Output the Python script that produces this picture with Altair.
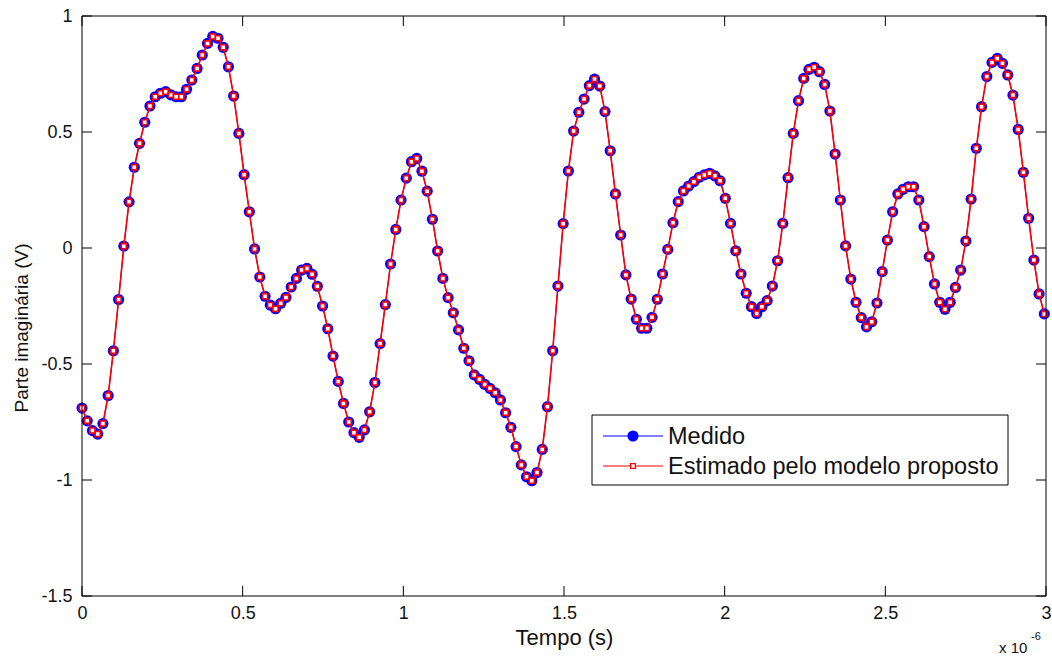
import altair as alt
import pandas as pd

# ---- data ----
# sampling interval in microseconds (x axis is shown in units of 1e-6 s)
DT_US = 1 / 61.44

medido = [
    -0.690, -0.745, -0.787, -0.802, -0.757, -0.636, -0.443, -0.222, 0.008, 0.199,
    0.348, 0.451, 0.542, 0.612, 0.652, 0.667, 0.674, 0.660, 0.652, 0.652,
    0.684, 0.724, 0.774, 0.832, 0.882, 0.912, 0.904, 0.865, 0.781, 0.655,
    0.494, 0.316, 0.156, -0.004, -0.125, -0.208, -0.246, -0.262, -0.238, -0.213,
    -0.168, -0.131, -0.095, -0.088, -0.113, -0.165, -0.250, -0.348, -0.466, -0.575,
    -0.670, -0.750, -0.796, -0.816, -0.784, -0.706, -0.580, -0.412, -0.244, -0.069,
    0.080, 0.207, 0.301, 0.372, 0.386, 0.331, 0.245, 0.124, -0.013, -0.131,
    -0.214, -0.279, -0.353, -0.432, -0.486, -0.547, -0.566, -0.588, -0.605, -0.624,
    -0.655, -0.710, -0.773, -0.856, -0.935, -0.986, -1.003, -0.968, -0.868, -0.684,
    -0.443, -0.164, 0.105, 0.332, 0.504, 0.585, 0.642, 0.700, 0.728, 0.698,
    0.588, 0.419, 0.233, 0.056, -0.116, -0.220, -0.307, -0.346, -0.346, -0.299,
    -0.221, -0.112, -0.006, 0.109, 0.200, 0.246, 0.267, 0.286, 0.305, 0.315,
    0.322, 0.311, 0.290, 0.214, 0.106, -0.012, -0.112, -0.195, -0.253, -0.282,
    -0.253, -0.227, -0.164, -0.055, 0.106, 0.303, 0.494, 0.635, 0.731, 0.770,
    0.779, 0.760, 0.705, 0.590, 0.405, 0.207, 0.009, -0.134, -0.234, -0.300,
    -0.340, -0.318, -0.237, -0.102, 0.034, 0.156, 0.233, 0.253, 0.264, 0.264,
    0.207, 0.092, -0.037, -0.155, -0.234, -0.264, -0.234, -0.170, -0.095, 0.030,
    0.211, 0.430, 0.609, 0.739, 0.800, 0.817, 0.796, 0.746, 0.659, 0.511,
    0.326, 0.128, -0.052, -0.198, -0.284,
]
# the model estimate coincides with the measurement at the picture's resolution
estimado = list(medido)

tempo = [i * DT_US for i in range(len(medido))]

series_names = ["Medido", "Estimado pelo modelo proposto"]
x_ticks = [0, 0.5, 1, 1.5, 2, 2.5, 3]
y_ticks = [-1.5, -1, -0.5, 0, 0.5, 1]
x_title = "Tempo (s)"
y_title = "Parte imaginária (V)"
exp_base = "x 10"
exp_power = "-6"

# ---- layout / style ----
W, H = 964, 580
FONT = "Liberation Sans"
BLUE = "#0000ff"
RED = "#ff0000"
TXT = "#111111"

df_m = pd.DataFrame({"tempo": tempo, "valor": medido})
df_e = pd.DataFrame({"tempo": tempo, "valor": estimado})
df_xt = pd.DataFrame({"tempo": x_ticks})
df_yt = pd.DataFrame({"valor": y_ticks})
one = pd.DataFrame({"k": [0]})

xs = alt.Scale(domain=[0, 3], nice=False, zero=False)
ys = alt.Scale(domain=[-1.5, 1], nice=False, zero=False)

x_axis = alt.Axis(values=x_ticks, title=x_title, ticks=False, domain=False,
                  grid=False, labelExpr="datum.value + ''", labelFont=FONT,
                  labelFontSize=18, labelColor=TXT, labelPadding=8,
                  titleFont=FONT, titleFontSize=22, titleFontWeight="normal",
                  titleColor=TXT, titlePadding=5, labelFlush=False)
y_axis = alt.Axis(values=y_ticks, title=None, ticks=False, domain=False,
                  grid=False, labelExpr="datum.value + ''", labelFont=FONT,
                  labelFontSize=18, labelColor=TXT, labelPadding=10,
                  labelFlush=False)

X = alt.X("tempo:Q", scale=xs, axis=x_axis)
Y = alt.Y("valor:Q", scale=ys, axis=y_axis)

blue_line = alt.Chart(df_m).mark_line(color=BLUE, strokeWidth=1).encode(x=X, y=Y)
blue_pts = alt.Chart(df_m).mark_point(shape="circle", filled=True, color=BLUE,
                                      size=125, opacity=1).encode(x=X, y=Y)
red_line = alt.Chart(df_e).mark_line(color=RED, strokeWidth=1.6).encode(x=X, y=Y)
red_pts = alt.Chart(df_e).mark_point(shape="square", filled=False, fill="white",
                                     fillOpacity=1, stroke=RED, strokeWidth=1.6,
                                     size=26, opacity=1).encode(x=X, y=Y)

TL = 10
tick_b = alt.Chart(df_xt).mark_rule(color="black", strokeWidth=1).encode(
    x=X, y=alt.value(H), y2=alt.value(H - TL))
tick_t = alt.Chart(df_xt).mark_rule(color="black", strokeWidth=1).encode(
    x=X, y=alt.value(0), y2=alt.value(TL))
tick_l = alt.Chart(df_yt).mark_rule(color="black", strokeWidth=1).encode(
    y=Y, x=alt.value(0), x2=alt.value(TL))
tick_r = alt.Chart(df_yt).mark_rule(color="black", strokeWidth=1).encode(
    y=Y, x=alt.value(W), x2=alt.value(W - TL))

frame = alt.Chart(one).mark_rect(fill=None, fillOpacity=0, stroke="black",
                                 strokeWidth=1).encode(
    x=alt.value(0), x2=alt.value(W), y=alt.value(0), y2=alt.value(H))

# y-axis title as rotated text (placed like the reference)
y_title_mark = alt.Chart(one).mark_text(angle=270, align="center", baseline="middle",
                                        font=FONT, fontSize=19, color=TXT).encode(
    x=alt.value(-60), y=alt.value(312), text=alt.value(y_title))

# legend box (positions in plot pixels)
LX0, LX1, LY0, LY1 = 510, 926, 399, 469
R1, R2 = 420, 450
leg_box = alt.Chart(one).mark_rect(fill="white", stroke="black", strokeWidth=1).encode(
    x=alt.value(LX0), x2=alt.value(LX1), y=alt.value(LY0), y2=alt.value(LY1))
leg_l1 = alt.Chart(one).mark_rule(color=BLUE, strokeWidth=1).encode(
    x=alt.value(521), x2=alt.value(581), y=alt.value(R1))
leg_p1 = alt.Chart(one).mark_point(shape="circle", filled=True, color=BLUE,
                                   size=125, opacity=1).encode(
    x=alt.value(551), y=alt.value(R1))
leg_l2 = alt.Chart(one).mark_rule(color=RED, strokeWidth=1).encode(
    x=alt.value(521), x2=alt.value(581), y=alt.value(R2))
leg_p2 = alt.Chart(one).mark_point(shape="square", filled=False, fill="white",
                                   fillOpacity=1, stroke=RED, strokeWidth=1.3,
                                   size=22, opacity=1).encode(
    x=alt.value(551), y=alt.value(R2))
leg_t1 = alt.Chart(one).mark_text(align="left", baseline="middle", font=FONT,
                                  fontSize=23.5, color=TXT).encode(
    x=alt.value(586), y=alt.value(R1 + 1), text=alt.value(series_names[0]))
leg_t2 = alt.Chart(one).mark_text(align="left", baseline="middle", font=FONT,
                                  fontSize=23.5, color=TXT).encode(
    x=alt.value(586), y=alt.value(R2 + 1), text=alt.value(series_names[1]))

exp_t1 = alt.Chart(one).mark_text(align="left", baseline="alphabetic", font=FONT,
                                  fontSize=15, color=TXT).encode(
    x=alt.value(917), y=alt.value(637), text=alt.value(exp_base))
exp_t2 = alt.Chart(one).mark_text(align="left", baseline="alphabetic", font=FONT,
                                  fontSize=11, color=TXT).encode(
    x=alt.value(949), y=alt.value(624), text=alt.value(exp_power))

chart = alt.layer(
    blue_line, blue_pts, red_line, red_pts,
    tick_b, tick_t, tick_l, tick_r, frame, y_title_mark,
    leg_box, leg_l1, leg_p1, leg_l2, leg_p2, leg_t1, leg_t2,
    exp_t1, exp_t2,
).properties(
    width=W, height=H,
    autosize=alt.AutoSizeParams(type="none"),
    padding={"left": 82, "top": 16, "right": 6, "bottom": 61},
    background="white",
).configure_view(stroke=None)

chart.save("out.html", embed_options={"renderer": "svg", "actions": False})
